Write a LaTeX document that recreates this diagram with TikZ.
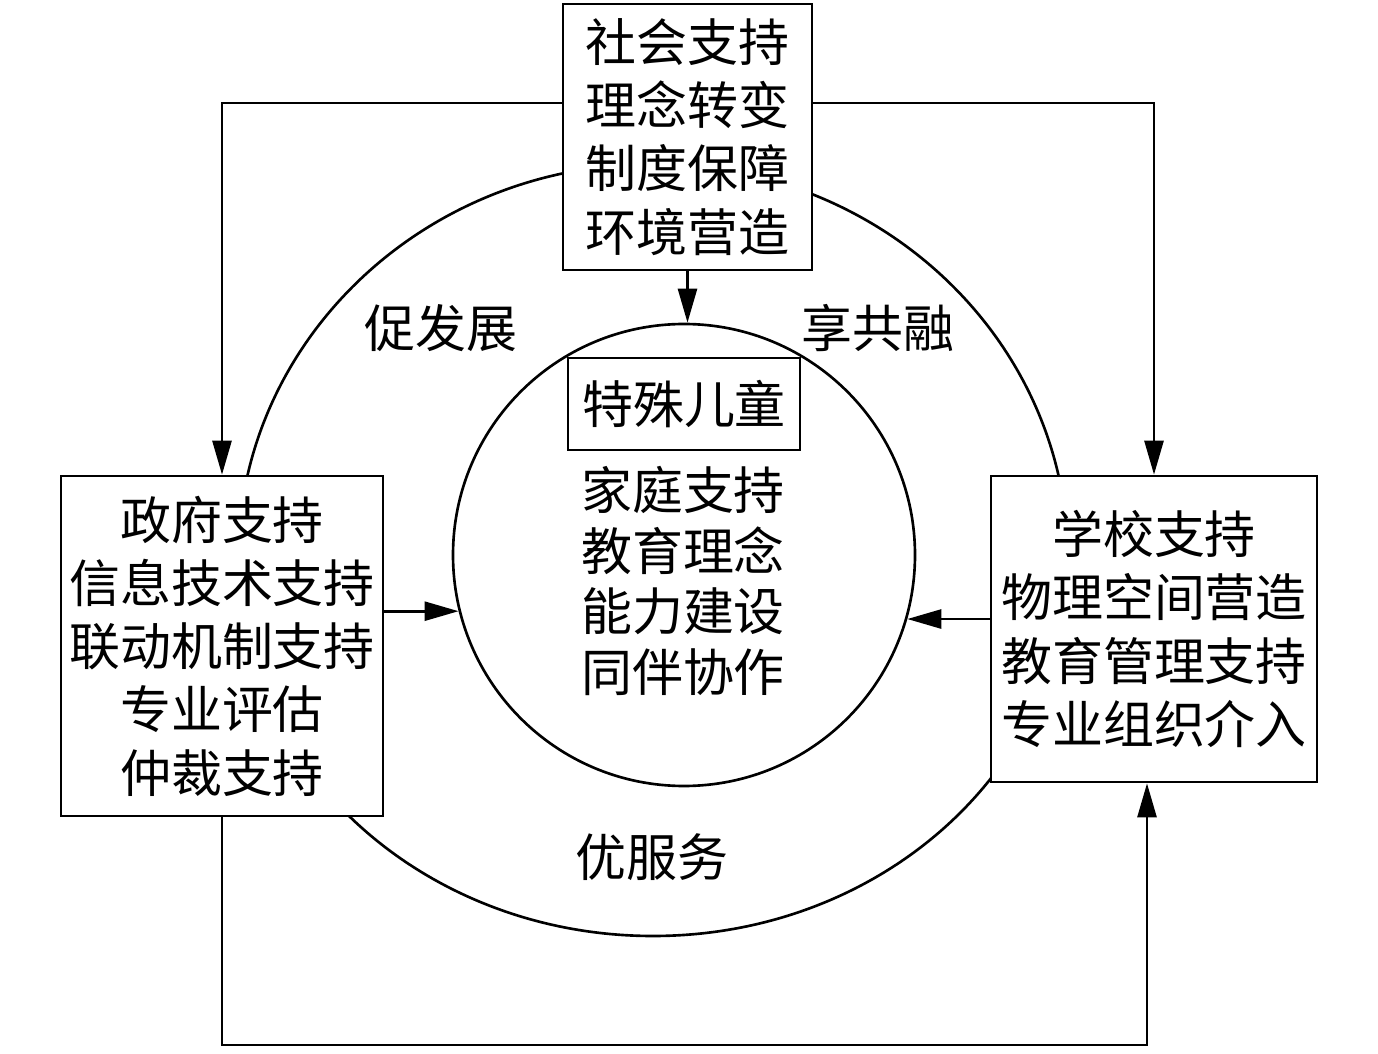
\documentclass[tikz,border=0pt]{standalone}
\usepackage{fontspec}
\newfontfamily\cjk{Noto Sans CJK SC}
\usetikzlibrary{arrows.meta}

\begin{document}
\begin{tikzpicture}[>={Triangle[length=6.8mm,width=3.8mm]},line width=1.5pt,
  box/.style={draw,fill=white,align=center,inner sep=0pt,font={\cjk\fontsize{29pt}{36pt}\selectfont}},
  txt/.style={align=center,inner sep=0pt,font={\cjk\fontsize{29pt}{34.5pt}\selectfont}}]
\useasboundingbox (0,0) rectangle (27.56,21.06);
% outer ring
\coordinate (oc) at (13.06,9.86);
\draw ([xshift=-8.3cm]oc) arc[start angle=180,end angle=0,x radius=8.3cm,y radius=7.92cm]
  arc[start angle=0,end angle=-180,x radius=8.3cm,y radius=7.52cm];
% boxes
\node[box,minimum width=4.98cm,minimum height=5.32cm] (soc) at (13.75,18.32) {社会支持\\理念转变\\制度保障\\环境营造};
\node[box,minimum width=6.44cm,minimum height=6.8cm] (gov) at (4.44,8.14) {政府支持\\信息技术支持\\联动机制支持\\专业评估\\仲裁支持};
\node[box,minimum width=6.52cm,minimum height=6.12cm] (sch) at (23.08,8.48) {学校支持\\物理空间营造\\教育管理支持\\专业组织介入};
% inner circle
\node[circle,draw,minimum size=9.24cm] (ring) at (13.68,9.96) {};
\node[box,minimum width=4.64cm,minimum height=1.84cm] (kid) at (13.68,12.98) {特殊儿童};
\node[txt] (fam) at (13.66,9.44) {家庭支持\\教育理念\\能力建设\\同伴协作};
% labels
\node[txt] (l1) at (8.82,14.5) {促发展};
\node[txt] (l2) at (17.56,14.5) {享共融};
\node[txt] (l3) at (13.04,3.92) {优服务};
% arrows
\coordinate (low) at (22.94,0.16);
\draw[->] ([yshift=0.68cm]soc.west) -| (gov.north);
\draw[->] ([yshift=0.68cm]soc.east) -| (sch.north);
\draw[->] (soc.south) -- (soc.south |- ring.north);
\draw[->] (gov.east |- ring.194) -- (ring.194);
\draw[->] (sch.west |- ring.-16) -- (ring.-16);
\draw[->] (gov.south) |- (low) -- (low |- sch.south);
\end{tikzpicture}
\end{document}
